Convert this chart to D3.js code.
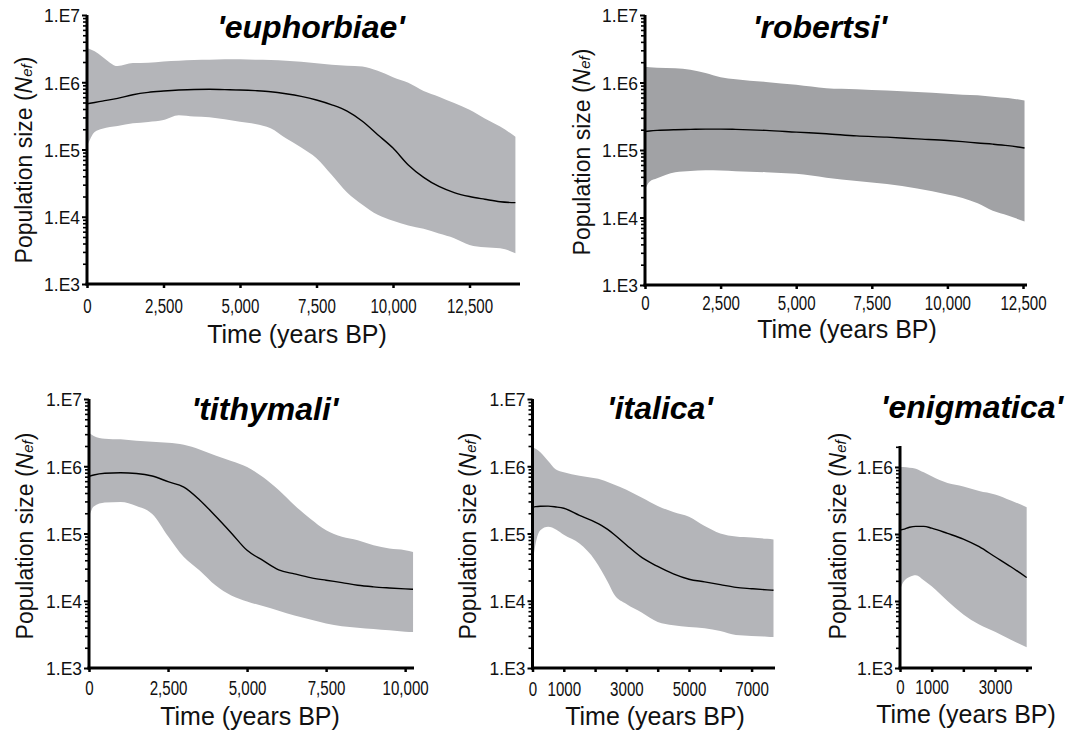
<!DOCTYPE html>
<html><head><meta charset="utf-8">
<script src="https://cdn.jsdelivr.net/npm/d3@7/dist/d3.min.js"></script>
<style>body{margin:0;background:#fff}svg{display:block}</style>
</head><body>
<svg id="c" width="1084" height="731"></svg>
<script>
// ---------------- DATA ----------------
const yTickValues = [1e3, 1e4, 1e5, 1e6, 1e7];
const yTickLabels = ["1.E3", "1.E4", "1.E5", "1.E6", "1.E7"];
const xTicksLong = [0, 2500, 5000, 7500, 10000, 12500];
const xTicksShort = [0, 1000, 2000, 3000, 4000, 5000, 6000, 7000];
const xLabelsShort = [0, 1000, 3000, 5000, 7000];

const titles = ["'euphorbiae'", "'robertsi'", "'tithymali'", "'italica'", "'enigmatica'"];

const euphTime   = [0,250,500,1000,1500,2000,2500,3000,3500,4000,4500,5000,5500,6000,6500,7000,7500,8000,8500,9000,9500,10000,10500,11000,11500,12000,12500,13000,13500,14000];
const euphMedian = [4.79e5,5.01e5,5.25e5,5.75e5,6.53e5,7.08e5,7.41e5,7.67e5,7.82e5,7.85e5,7.76e5,7.67e5,7.50e5,7.24e5,6.76e5,6.17e5,5.45e5,4.62e5,3.72e5,2.63e5,1.66e5,1.05e5,5.89e4,3.85e4,2.82e4,2.29e4,2.00e4,1.82e4,1.67e4,1.62e4];
const euphUpper  = [3.24e6,2.88e6,2.40e6,1.74e6,1.93e6,1.95e6,2.04e6,2.09e6,2.14e6,2.16e6,2.19e6,2.19e6,2.16e6,2.14e6,2.09e6,2.02e6,1.91e6,1.82e6,1.76e6,1.71e6,1.48e6,1.19e6,9.8e5,7.4e5,6.1e5,4.9e5,3.9e5,2.9e5,2.2e5,1.55e5];
const euphLower  = [1.10e5,1.82e5,2.04e5,2.24e5,2.45e5,2.57e5,2.75e5,3.24e5,3.09e5,3.02e5,2.82e5,2.59e5,2.40e5,2.07e5,1.47e5,1.07e5,7.41e4,4.17e4,2.29e4,1.51e4,1.07e4,8.71e3,7.41e3,6.61e3,5.62e3,4.79e3,3.80e3,3.51e3,3.39e3,2.86e3];

const robTime   = [0,150,400,1000,1500,2000,2500,3000,4000,5000,6000,7000,8000,9000,10000,10500,11000,11500,12000,12550];
const robMedian = [1.88e5,1.91e5,1.95e5,2.00e5,2.02e5,2.04e5,2.04e5,2.02e5,1.95e5,1.84e5,1.74e5,1.62e5,1.55e5,1.46e5,1.38e5,1.33e5,1.27e5,1.22e5,1.16e5,1.07e5];
const robUpper  = [1.69e6,1.68e6,1.66e6,1.62e6,1.55e6,1.38e6,1.20e6,1.12e6,1.02e6,9.25e5,8.22e5,7.94e5,7.59e5,7.24e5,6.84e5,6.61e5,6.46e5,6.17e5,5.89e5,5.42e5];
const robLower  = [2.57e4,3.39e4,3.80e4,4.68e4,4.90e4,5.01e4,4.95e4,4.84e4,4.68e4,4.43e4,3.89e4,3.47e4,3.13e4,2.69e4,2.19e4,1.95e4,1.62e4,1.26e4,1.07e4,8.71e3];

const tithTime   = [0,150,500,1000,1500,2000,2500,3000,3500,4000,4500,5000,5500,6000,6500,7000,7500,8000,8500,9000,9500,10000,10250];
const tithMedian = [7.08e5,7.41e5,7.85e5,8.00e5,7.82e5,7.16e5,5.89e5,4.90e5,3.16e5,1.82e5,1.02e5,5.62e4,3.98e4,2.88e4,2.51e4,2.21e4,2.02e4,1.86e4,1.70e4,1.61e4,1.55e4,1.50e4,1.48e4];
const tithUpper  = [3.16e6,2.82e6,2.57e6,2.51e6,2.40e6,2.32e6,2.24e6,2.09e6,1.78e6,1.45e6,1.20e6,9.77e5,6.92e5,4.42e5,2.63e5,1.66e5,1.12e5,8.91e4,7.94e4,6.70e4,5.98e4,5.65e4,5.33e4];
const tithLower  = [1.78e5,2.51e5,2.88e5,2.95e5,2.57e5,1.95e5,9.12e4,4.47e4,2.82e4,1.70e4,1.20e4,9.77e3,8.32e3,7.08e3,6.03e3,5.25e3,4.57e3,4.17e3,3.98e3,3.80e3,3.63e3,3.47e3,3.44e3];

const italTime   = [0,100,250,500,750,1000,1500,2000,2200,2400,2600,3000,3500,4000,4500,5000,5500,6000,6500,7000,7500,7700];
const italMedian = [2.45e5,2.51e5,2.54e5,2.55e5,2.48e5,2.37e5,1.86e5,1.48e5,1.32e5,1.15e5,9.77e4,6.76e4,4.37e4,3.24e4,2.51e4,2.09e4,1.91e4,1.74e4,1.58e4,1.51e4,1.45e4,1.43e4];
const italUpper  = [1.91e6,1.82e6,1.62e6,1.20e6,8.91e5,8.13e5,7.24e5,6.61e5,6.31e5,5.82e5,5.37e5,4.47e5,3.39e5,2.57e5,2.09e5,1.78e5,1.29e5,1.00e5,9.02e4,8.71e4,8.32e4,8.13e4];
const italLower  = [3.55e4,7.08e4,1.12e5,1.26e5,1.15e5,9.55e4,7.08e4,3.98e4,2.82e4,1.91e4,1.26e4,8.91e3,6.61e3,4.84e3,4.32e3,4.07e3,3.89e3,3.55e3,3.09e3,2.99e3,2.92e3,2.88e3];

const enigTime   = [0,100,300,500,750,1000,1500,2000,2500,3000,3500,4000];
const enigMedian = [1.14e5,1.17e5,1.26e5,1.30e5,1.30e5,1.22e5,1.02e5,8.41e4,6.46e4,4.57e4,3.24e4,2.24e4];
const enigUpper  = [1.00e6,1.00e6,9.77e5,9.44e5,8.32e5,7.24e5,5.75e5,5.13e5,4.37e5,3.89e5,3.16e5,2.51e5];
const enigLower  = [1.45e4,1.91e4,2.29e4,2.43e4,2.04e4,1.66e4,1.00e4,6.31e3,4.47e3,3.47e3,2.63e3,2.04e3];

// ---------------- LAYOUT ----------------
const bandLight = "#b4b5b9", bandDark = "#a1a2a5";
const panels = [
  {title: titles[0], time: euphTime, med: euphMedian, up: euphUpper, lo: euphLower,
   xr: [87, 520], xmax: 14150, yr: [284, 15], ymax: 1e7, fill: bandLight,
   xticks: xTicksLong, xlabels: xTicksLong, comma: true,
   titleX: 311, titleY: 38, yLabX: 32, yLabY: 160, xLabX: 297, xLabY: 343, tickBase: 29},
  {title: titles[1], time: robTime, med: robMedian, up: robUpper, lo: robLower,
   xr: [645, 1027], xmax: 12632, yr: [285, 15], ymax: 1e7, fill: bandDark,
   xticks: xTicksLong, xlabels: xTicksLong, comma: true,
   titleX: 820, titleY: 38, yLabX: 590, yLabY: 152, xLabX: 847, xLabY: 338, tickBase: 25},
  {title: titles[2], time: tithTime, med: tithMedian, up: tithUpper, lo: tithLower,
   xr: [89, 414], xmax: 10280, yr: [668, 399], ymax: 1e7, fill: bandLight,
   xticks: xTicksLong.slice(0, 5), xlabels: xTicksLong.slice(0, 5), comma: true,
   titleX: 265, titleY: 420, yLabX: 33, yLabY: 536, xLabX: 250, xLabY: 725, tickBase: 27},
  {title: titles[3], time: italTime, med: italMedian, up: italUpper, lo: italLower,
   xr: [532.5, 775], xmax: 7748, yr: [668, 399], ymax: 1e7, fill: bandLight,
   xticks: xTicksShort, xlabels: xLabelsShort, comma: false,
   titleX: 660, titleY: 419, yLabX: 476, yLabY: 536, xLabX: 655, xLabY: 725, tickBase: 28},
  {title: titles[4], time: enigTime, med: enigMedian, up: enigUpper, lo: enigLower,
   xr: [900, 1032], xmax: 4168, yr: [668, 446], ymax: 2.056e6, fill: bandLight,
   xticks: xTicksShort.slice(0, 5), xlabels: [0, 1000, 3000], comma: false,
   titleX: 972, titleY: 418, yLabX: 846, yLabY: 536, xLabX: 966, xLabY: 723, tickBase: 26}
];

const svg = d3.select("#c");
const FONT = "'Liberation Sans', Arial, Helvetica, sans-serif";

panels.forEach(p => {
  const x = d3.scaleLinear().domain([0, p.xmax]).range(p.xr);
  const y = d3.scaleLog().domain([1e3, p.ymax]).range(p.yr);
  const g = svg.append("g");

  // band
  const area = d3.area()
    .x((d, i) => x(p.time[i]))
    .y0((d, i) => y(p.lo[i]))
    .y1((d, i) => y(p.up[i]))
    .curve(d3.curveMonotoneX);
  g.append("path").datum(p.time).attr("d", area).attr("fill", p.fill).attr("stroke", "none");

  // median
  const line = d3.line()
    .x((d, i) => x(p.time[i]))
    .y((d, i) => y(p.med[i]))
    .curve(d3.curveMonotoneX);
  g.append("path").datum(p.time).attr("d", line).attr("fill", "none")
    .attr("stroke", "#000").attr("stroke-width", 1.4);

  // minor y ticks
  const minors = [];
  for (let e = 3; e < 7; e++) for (let m = 2; m <= 9; m++) { const v = m * Math.pow(10, e); if (v <= p.ymax) minors.push(v); }
  const yMinor = g.append("g").attr("transform", `translate(${p.xr[0]},0)`)
    .call(d3.axisLeft(y).tickValues(minors).tickSize(4).tickSizeOuter(0).tickFormat(""));
  yMinor.select(".domain").remove();
  yMinor.selectAll("line").attr("stroke", "#000").attr("stroke-width", 1.6);

  // major y axis
  const majors = yTickValues.filter(v => v <= p.ymax);
  const yAx = g.append("g").attr("transform", `translate(${p.xr[0]},0)`)
    .call(d3.axisLeft(y).tickValues(majors).tickSize(5).tickSizeOuter(0)
      .tickFormat(v => yTickLabels[yTickValues.indexOf(v)]));
  yAx.select(".domain").attr("stroke", "#000").attr("stroke-width", 3)
    .attr("d", `M0,${p.yr[0] + 1.5}V${p.yr[1]}`);
  yAx.selectAll(".tick line").attr("stroke", "#000").attr("stroke-width", 2);
  const sy = 0.92;
  yAx.selectAll(".tick text").attr("font-family", FONT).attr("font-size", 19)
    .attr("fill", "#111").attr("x", -7 / sy).attr("dy", "0.36em")
    .attr("transform", `scale(${sy},1)`);

  // x axis
  const fmt = p.comma ? d3.format(",") : d3.format("d");
  const xAx = g.append("g").attr("transform", `translate(0,${p.yr[0]})`)
    .call(d3.axisBottom(x).tickValues(p.xticks).tickSize(4).tickSizeOuter(0)
      .tickFormat(v => p.xlabels.includes(v) ? fmt(v) : ""));
  xAx.select(".domain").attr("stroke", "#000").attr("stroke-width", 3)
    .attr("d", `M${p.xr[0] - 1.5},0H${p.xr[1]}`);
  xAx.selectAll(".tick line").attr("stroke", "#000").attr("stroke-width", 2.5);
  const sx = 0.72;
  xAx.selectAll(".tick text").attr("font-family", FONT).attr("font-size", 21)
    .attr("fill", "#111").attr("y", p.tickBase).attr("dy", 0)
    .attr("transform", `scale(${sx},1)`)
    .attr("x", 0);

  // title
  g.append("text").attr("x", p.titleX).attr("y", p.titleY).attr("text-anchor", "middle")
    .attr("font-family", FONT).attr("font-weight", "bold").attr("font-style", "italic")
    .attr("font-size", 32).attr("fill", "#000").text(p.title);

  // y label
  const yl = g.append("text").attr("transform", `translate(${p.yLabX},${p.yLabY}) rotate(-90)`)
    .attr("text-anchor", "middle").attr("font-family", FONT).attr("font-size", 23).attr("fill", "#111");
  yl.append("tspan").text("Population size (");
  yl.append("tspan").attr("font-style", "italic").text("N");
  yl.append("tspan").attr("font-style", "italic").attr("font-size", 15).text("ef");
  yl.append("tspan").text(")");

  // x label
  g.append("text").attr("x", p.xLabX).attr("y", p.xLabY).attr("text-anchor", "middle")
    .attr("font-family", FONT).attr("font-size", 25).attr("fill", "#111").text("Time (years BP)");
});
</script>
</body></html>
